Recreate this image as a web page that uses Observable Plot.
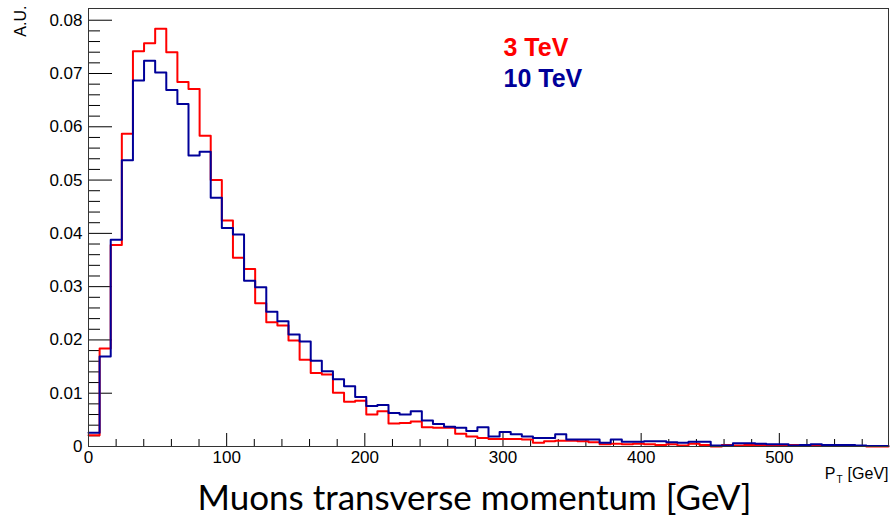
<!DOCTYPE html>
<html>
<head>
<meta charset="utf-8">
<script src="https://cdn.jsdelivr.net/npm/d3@7"></script>
<script src="https://cdn.jsdelivr.net/npm/@observablehq/plot@0.6"></script>
<style>
  html, body { margin: 0; padding: 0; background: #fff; }
  #chart svg { display: block; }
</style>
</head>
<body>
<div id="chart"></div>
<script>
// Histogram binning (GeV)
const binWidth = 8.042;
const nBins = 72;

// Normalised muon pT distributions (A.U.), one value per bin
const tev3 = [
  0.0021, 0.0184, 0.0378, 0.0587, 0.0742, 0.0757, 0.0784, 0.0740, 0.0684, 0.0671,
  0.0583, 0.0500, 0.0424, 0.0354, 0.0333, 0.0269, 0.0233, 0.0227, 0.0199, 0.0163,
  0.0138, 0.0135, 0.0101, 0.0084, 0.0086, 0.0060, 0.0066, 0.0043, 0.0044, 0.0047,
  0.0036, 0.0035, 0.0035, 0.0024, 0.0019, 0.0016, 0.0014, 0.0014, 0.0014, 0.0013,
  0.0007, 0.0010, 0.0011, 0.0011, 0.0010, 0.0008, 0.0004, 0.0005, 0.0004, 0.0005,
  0.0004, 0.0003, 0.0004, 0.0002, 0.0005, 0.0003, 0.0000, 0.0003, 0.0002, 0.0003,
  0.0003, 0.0002, 0.0001, 0.0003, 0.0002, 0.0002, 0.0001, 0.0002, 0.0001, 0.0001,
  0.0000, 0.0000
];
const tev10 = [
  0.0026, 0.0169, 0.0388, 0.0537, 0.0687, 0.0724, 0.0702, 0.0669, 0.0643, 0.0546,
  0.0553, 0.0467, 0.0410, 0.0398, 0.0311, 0.0299, 0.0253, 0.0235, 0.0210, 0.0197,
  0.0161, 0.0141, 0.0126, 0.0113, 0.0093, 0.0076, 0.0078, 0.0063, 0.0060, 0.0066,
  0.0049, 0.0042, 0.0037, 0.0035, 0.0029, 0.0036, 0.0019, 0.0027, 0.0023, 0.0019,
  0.0016, 0.0016, 0.0023, 0.0013, 0.0013, 0.0013, 0.0007, 0.0013, 0.0009, 0.0009,
  0.0010, 0.0010, 0.0008, 0.0007, 0.0009, 0.0009, 0.0002, 0.0002, 0.0006, 0.0006,
  0.0005, 0.0004, 0.0004, 0.0002, 0.0003, 0.0004, 0.0003, 0.0003, 0.0003, 0.0002,
  0.0001, 0.0001
];

// Axis ticks
const xMajor = [0, 100, 200, 300, 400, 500];
const xMinor = d3.range(0, 579, 20).filter(v => v % 100 !== 0);
const yMajor = [0, 0.01, 0.02, 0.03, 0.04, 0.05, 0.06, 0.07, 0.08];
const yMinor = d3.range(0, 41).map(i => i * 0.002).filter((v, i) => i % 5 !== 0);

// Labels
const series = [
  {name: "3 TeV", color: "#ff0000", values: tev3},
  {name: "10 TeV", color: "#000099", values: tev10}
];
const caption = "Muons transverse momentum [GeV]";

function stepData(values) {
  const pts = values.map((v, i) => ({x: i * binWidth, y: v}));
  pts.push({x: nBins * binWidth, y: values[values.length - 1]});
  return pts;
}

const W = 890, H = 520;
const mL = 88, mR = 2, mT = 8, mB = 74;
const fw = W - mL - mR, fh = H - mT - mB;

const chart = Plot.plot({
  width: W,
  height: H,
  marginLeft: mL,
  marginRight: mR,
  marginTop: mT,
  marginBottom: mB,
  style: {fontFamily: "'Liberation Sans', Arial, Helvetica, sans-serif", fontSize: "17px", color: "#000", background: "#fff"},
  x: {domain: [0, nBins * binWidth], label: null},
  y: {domain: [0, 0.0822], label: null},
  marks: [
    // inward ticks (ROOT style)
    Plot.tickY(yMajor, {y: d => d, insetRight: fw - 24, stroke: "#000"}),
    Plot.tickY(yMinor, {y: d => d, insetRight: fw - 12, stroke: "#000"}),
    Plot.tickX(xMajor, {x: d => d, insetTop: fh - 13, stroke: "#000"}),
    Plot.tickX(xMinor, {x: d => d, insetTop: fh - 7, stroke: "#000"}),
    Plot.axisY({ticks: yMajor, tickSize: 0, tickPadding: 6, label: null,
      tickFormat: d => d === 0 ? "0" : d.toFixed(2), fontSize: 17}),
    Plot.axisX({ticks: xMajor, tickSize: 0, tickPadding: 4, label: null,
      tickFormat: d => String(d), fontSize: 17}),
    // histograms
    ...series.map(s => Plot.line(stepData(s.values), {
      x: "x", y: "y", curve: "step-after", stroke: s.color, strokeWidth: 2
    })),
    Plot.frame({stroke: "#333", strokeWidth: 1}),
    // legend
    ...series.map((s, i) => Plot.text([s.name], {
      frameAnchor: "top-left", text: d => d, dx: 415, dy: 30 + i * 31,
      textAnchor: "start", fill: s.color, fontWeight: "bold", fontSize: 25
    })),
    // y axis title
    Plot.text(["A.U."], {
      frameAnchor: "top-left", text: d => d, rotate: -90, textAnchor: "end",
      dx: -74, dy: -3, fontSize: 16, fill: "#000"
    }),
    // x axis title P_T [GeV]
    Plot.text(["[GeV]"], {
      frameAnchor: "bottom-right", text: d => d, textAnchor: "end",
      dx: 0, dy: 32, fontSize: 16, fill: "#000"
    }),
    Plot.text(["T"], {
      frameAnchor: "bottom-right", text: d => d, textAnchor: "end",
      dx: -46, dy: 36, fontSize: 10, fill: "#000"
    }),
    Plot.text(["P"], {
      frameAnchor: "bottom-right", text: d => d, textAnchor: "end",
      dx: -53, dy: 32, fontSize: 16, fill: "#000"
    }),
    // caption below the chart
    Plot.text([caption], {
      frameAnchor: "bottom", text: d => d, textAnchor: "middle",
      dx: -14, dy: 63, fontSize: 35, fill: "#000",
      fontFamily: "Lato, 'Open Sans', sans-serif"
    })
  ]
});

document.getElementById("chart").appendChild(chart);
</script>
</body>
</html>
